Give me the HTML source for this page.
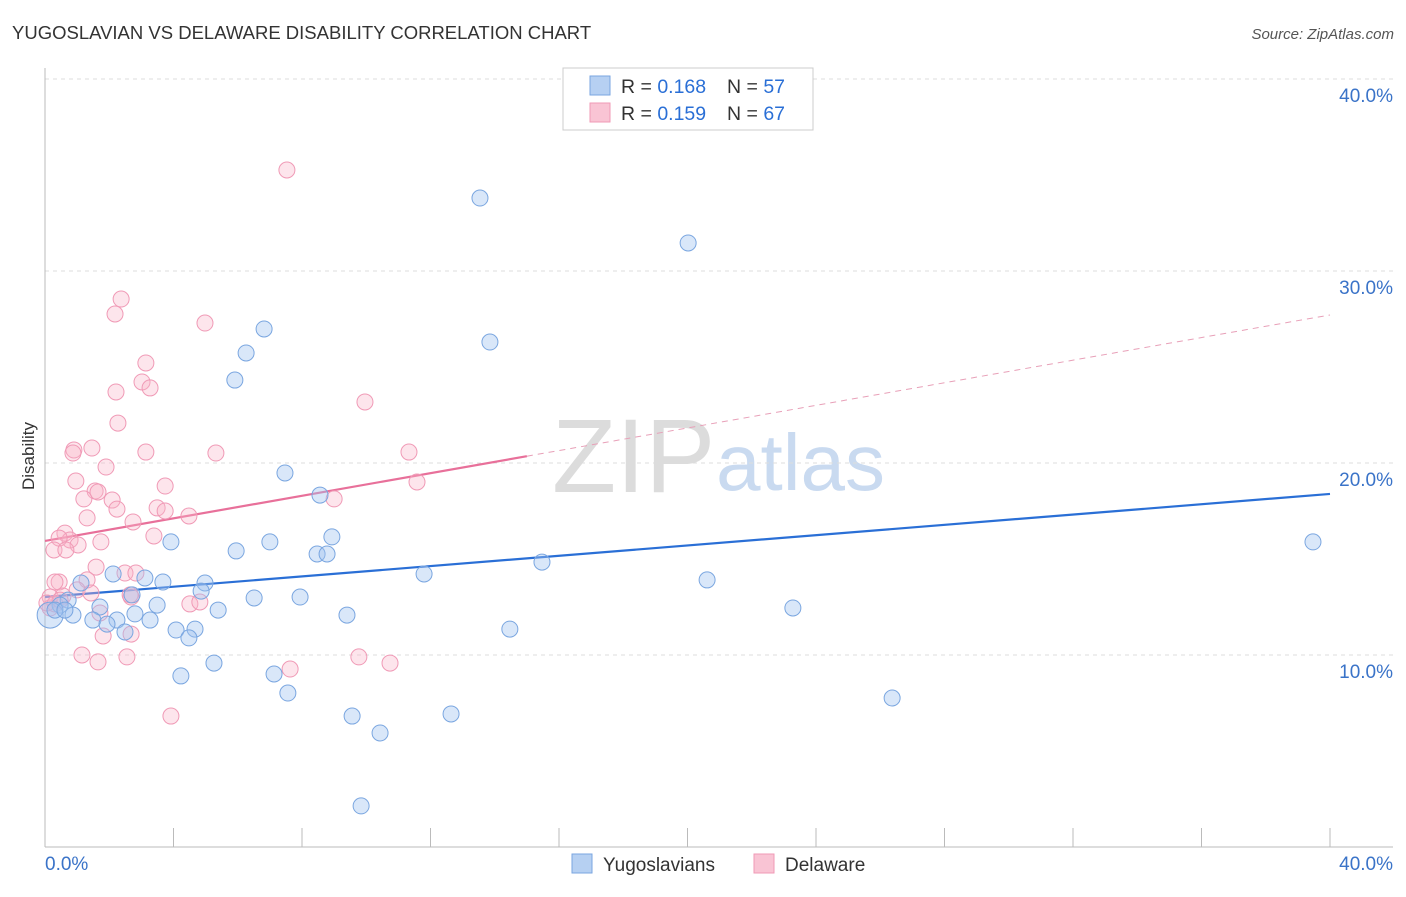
<!DOCTYPE html>
<html><head><meta charset="utf-8"><style>
body{margin:0;background:#fff;font-family:"Liberation Sans",sans-serif;}
svg text{font-family:"Liberation Sans",sans-serif;}
</style></head><body>
<svg id="chart" width="1406" height="892" viewBox="0 0 1406 892" xmlns="http://www.w3.org/2000/svg">
<text x="12" y="39" font-size="18.5" fill="#333">YUGOSLAVIAN VS DELAWARE DISABILITY CORRELATION CHART</text>
<text x="1394" y="39" font-size="15" fill="#555" font-style="italic" text-anchor="end">Source: ZipAtlas.com</text>
<g>
<text x="552" y="492" font-size="105" font-family="Liberation Serif,serif" fill="#dcdcdc">ZIP</text>
<text x="716" y="490" font-size="80" fill="#c9daf0">atlas</text>
</g>
<g id="grid"></g>
<g id="axes"></g>
<g id="lines"></g>
<g id="pts"></g>
<text transform="translate(34,456) rotate(-90)" font-size="17" fill="#333" text-anchor="middle">Disability</text>
<g>
<rect x="563" y="68" width="250" height="62" fill="#fff" stroke="#ccc"/>
<rect x="590" y="76" width="20" height="19" fill="#b6d0f2" stroke="#7aa6e0"/>
<rect x="590" y="103" width="20" height="19" fill="#f9c4d4" stroke="#f09ab6"/>
<text x="621" y="93" font-size="19.5" fill="#333">R = <tspan fill="#2a6fd6">0.168</tspan></text>
<text x="727" y="93" font-size="19.5" fill="#333">N = <tspan fill="#2a6fd6">57</tspan></text>
<text x="621" y="120" font-size="19.5" fill="#333">R = <tspan fill="#2a6fd6">0.159</tspan></text>
<text x="727" y="120" font-size="19.5" fill="#333">N = <tspan fill="#2a6fd6">67</tspan></text>
</g>
<g>
<rect x="572" y="854" width="20" height="19" fill="#b6d0f2" stroke="#7aa6e0"/>
<text x="603" y="871" font-size="19" fill="#333">Yugoslavians</text>
<rect x="754" y="854" width="20" height="19" fill="#f9c4d4" stroke="#f09ab6"/>
<text x="785" y="871" font-size="19" fill="#333">Delaware</text>
</g>
</svg>
<script>
const yTicks=[10,20,30,40];
const yTickLabels=["10.0%","20.0%","30.0%","40.0%"];
const xTicks=[0,4,8,12,16,20,24,28,32,36,40];
const blueX=[13.54,20.02,13.85,6.82,6.26,5.91,7.47,8.56,8.93,3.92,5.95,7.00,8.47,8.78,15.47,11.80,20.61,39.47,2.12,3.11,3.67,4.98,1.12,4.86,6.51,7.94,2.71,3.49,1.71,5.39,9.40,23.28,0.72,0.47,0.16,0.87,1.49,2.24,3.27,1.93,2.80,2.49,4.08,4.67,4.48,14.47,5.26,4.23,7.13,7.56,26.37,9.56,12.64,10.43,9.84,0.31,0.62];
const blueY=[33.80,31.46,26.30,26.98,25.73,24.32,19.48,18.33,16.15,15.89,15.42,15.89,15.26,15.26,14.84,14.22,13.91,15.89,14.22,14.01,13.80,13.75,13.75,13.33,12.97,13.02,13.13,12.60,12.50,12.34,12.08,12.45,12.86,12.60,12.08,12.08,11.82,11.82,11.82,11.61,12.14,11.20,11.30,11.35,10.89,11.35,9.58,8.91,9.01,8.02,7.76,6.82,6.93,5.94,2.14,12.34,12.34];
const pinkX=[7.53,2.37,2.18,4.98,3.14,3.02,3.27,2.21,2.27,9.96,0.90,1.46,0.87,3.14,5.32,11.33,1.90,0.96,1.56,1.65,3.74,11.58,9.00,1.21,2.09,2.24,3.49,3.74,4.48,1.31,2.74,3.39,0.62,0.78,0.44,1.03,1.74,0.28,0.65,1.59,2.49,2.83,0.44,1.31,0.31,1.00,0.16,0.56,1.43,2.68,4.51,4.82,2.65,0.16,0.31,1.81,2.68,1.15,1.65,2.55,7.63,9.77,10.74,3.92,0.06,0.47,1.71];
const pinkY=[35.26,28.54,27.76,27.29,25.21,24.22,23.91,23.70,22.08,23.18,20.68,20.78,20.52,20.57,20.52,20.57,19.79,19.06,18.54,18.49,18.80,19.01,18.13,18.13,18.07,17.60,17.66,17.50,17.24,17.14,16.93,16.20,16.35,15.99,16.09,15.73,15.89,15.47,15.47,14.58,14.27,14.27,13.80,13.91,13.80,13.39,13.02,13.07,13.23,13.02,12.66,12.76,13.13,12.45,12.66,10.99,11.09,10.00,9.64,9.90,9.27,9.90,9.58,6.82,12.71,12.86,12.19];
const blueTrend=[13.02,18.39];
const pinkTrend=[15.94,27.71];
const pinkSolidEnd=15.0;

const NS="http://www.w3.org/2000/svg";
const sx=v=>45+v*(1285/40);
const sy=v=>847-v*19.2;
function mk(tag,attrs,parent){const e=document.createElementNS(NS,tag);for(const k in attrs)e.setAttribute(k,attrs[k]);parent.appendChild(e);return e;}
const grid=document.getElementById('grid'),axes=document.getElementById('axes'),lines=document.getElementById('lines'),pts=document.getElementById('pts');
yTicks.forEach((t,i)=>{
  const l=mk('line',{x1:45,x2:1393,y1:sy(t),y2:sy(t),stroke:'#ddd','stroke-dasharray':'4,4'},grid);
  
  
  const tx=mk('text',{x:1393,y:sy(t)+23,'font-size':19,fill:'#3a73c8','text-anchor':'end'},axes);
  tx.textContent=yTickLabels[i];
  
  
});
mk('line',{x1:45,x2:45,y1:68,y2:847,stroke:'#bbb'},axes);
mk('line',{x1:45,x2:1393,y1:847,y2:847,stroke:'#bbb'},axes);
xTicks.forEach(t=>{
  const l=mk('line',{x1:sx(t),x2:sx(t),y1:828,y2:847,stroke:'#bbb'},axes);
  
  
});
const x0=mk('text',{x:45,y:870,'font-size':19,fill:'#3a73c8'},axes);x0.textContent='0.0%';


const x1=mk('text',{x:1393,y:870,'font-size':19,fill:'#3a73c8','text-anchor':'end'},axes);x1.textContent='40.0%';



function circ(x,y,fill,stroke,name,r){
  const c=mk('circle',{cx:sx(x),cy:sy(y),r:r||8,fill:fill,stroke:stroke,'stroke-width':1},pts);
  
  
}
pinkX.forEach((x,i)=>circ(x,pinkY[i],'rgba(248,180,200,0.35)','#f09ab6','delaware-point'));
blueX.forEach((x,i)=>circ(x,blueY[i],'rgba(160,196,240,0.4)','#7aa6e0','yugoslavian-point',(i===34)?13:8));

const bl=mk('line',{x1:sx(0),y1:sy(blueTrend[0]),x2:sx(40),y2:sy(blueTrend[1]),stroke:'#2a6fd6','stroke-width':2.2},lines);


const pe=pinkTrend[0]+(pinkTrend[1]-pinkTrend[0])*pinkSolidEnd/40;
const pl=mk('line',{x1:sx(0),y1:sy(pinkTrend[0]),x2:sx(pinkSolidEnd),y2:sy(pe),stroke:'#e8709a','stroke-width':2.2},lines);


const pd=mk('line',{x1:sx(pinkSolidEnd),y1:sy(pe),x2:sx(40),y2:sy(pinkTrend[1]),stroke:'#e8a0b8','stroke-width':1,'stroke-dasharray':'6,5'},lines);


</script>
</body></html>
